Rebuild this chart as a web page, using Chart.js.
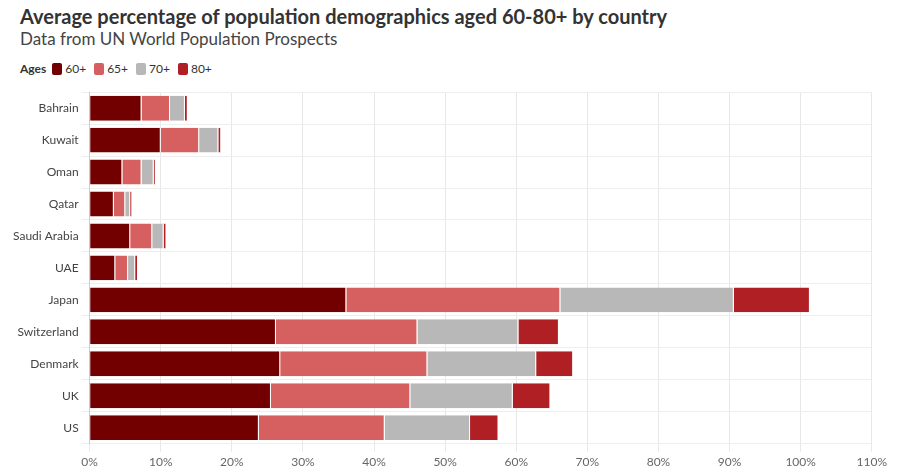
<!DOCTYPE html>
<html>
<head>
<meta charset="utf-8">
<script src="https://cdn.jsdelivr.net/npm/chart.js@4"></script>
<style>
  body { margin: 0; font-family: Lato, sans-serif; background: #fff; }
  #wrap { width: 904px; height: 476px; position: relative; }
  h1 { margin: 0; position: absolute; left: 20px; top: 4px; font-size: 20px; font-weight: 700; color: #333; }
  h2 { margin: 0; position: absolute; left: 20px; top: 28px; font-size: 17px; font-weight: 400; color: #444; }
  #legend { position: absolute; left: 20px; top: 61px; font-size: 12px; color: #333; display: flex; align-items: center; }
  #legend b { margin-right: 6px; }
  #legend span.sw { display: inline-block; width: 10px; height: 12px; border-radius: 2px; margin-right: 3px; }
  #legend span.it { margin-right: 8px; display: flex; align-items: center; }
  #box { position: absolute; left: 0; top: 82px; width: 890px; height: 390px; }
</style>
</head>
<body>
<div id="wrap">
  <h1>Average percentage of population demographics aged 60-80+ by country</h1>
  <h2>Data from UN World Population Prospects</h2>
  <div id="legend"><b>Ages</b></div>
  <div id="box"><canvas id="c"></canvas></div>
</div>
<script>
const countries = ['Bahrain', 'Kuwait', 'Oman', 'Qatar', 'Saudi Arabia', 'UAE', 'Japan', 'Switzerland', 'Denmark', 'UK', 'US'];
const ageGroups = ['60+', '65+', '70+', '80+'];
const aged60 = [7.3, 10.0, 4.6, 3.4, 5.7, 3.6, 36.1, 26.2, 26.8, 25.5, 23.8];
const aged65 = [4.0, 5.4, 2.7, 1.6, 3.1, 1.8, 30.1, 19.9, 20.7, 19.6, 17.7];
const aged70 = [2.1, 2.7, 1.7, 0.7, 1.6, 1.0, 24.4, 14.2, 15.3, 14.4, 12.0];
const aged80 = [0.4, 0.4, 0.3, 0.3, 0.4, 0.4, 10.7, 5.7, 5.2, 5.3, 4.0];
const colors = ['#730000', '#d65f5f', '#b8b8b8', '#b01f24'];

const legend = document.getElementById('legend');
ageGroups.forEach(function (g, i) {
  const s = document.createElement('span');
  s.className = 'it';
  s.innerHTML = '<span class="sw" style="background:' + colors[i] + '"></span>' + g;
  legend.appendChild(s);
});

const series = [aged60, aged65, aged70, aged80];
new Chart(document.getElementById('c'), {
  type: 'bar',
  data: {
    labels: countries,
    datasets: series.map(function (d, i) {
      return {
        label: ageGroups[i], data: d, backgroundColor: colors[i],
        borderColor: '#fff', borderWidth: { right: 1 },
        barPercentage: 0.78, categoryPercentage: 1.0
      };
    })
  },
  options: {
    indexAxis: 'y',
    responsive: true,
    maintainAspectRatio: false,
    animation: false,
    layout: { padding: { left: 10, right: 10, top: 10 } },
    plugins: { legend: { display: false }, tooltip: { enabled: false } },
    scales: {
      x: {
        stacked: true, min: 0, max: 110,
        ticks: { stepSize: 10, callback: function (v) { return v + '%'; }, color: '#666', font: { family: 'Lato', size: 12 } },
        grid: { color: '#e8e8e8' }, border: { display: false }
      },
      y: {
        stacked: true,
        ticks: { color: '#444', font: { family: 'Lato', size: 12 } },
        grid: { color: '#eeeeee', offset: true }, border: { color: '#ccc' }
      }
    }
  }
});
</script>
</body>
</html>
